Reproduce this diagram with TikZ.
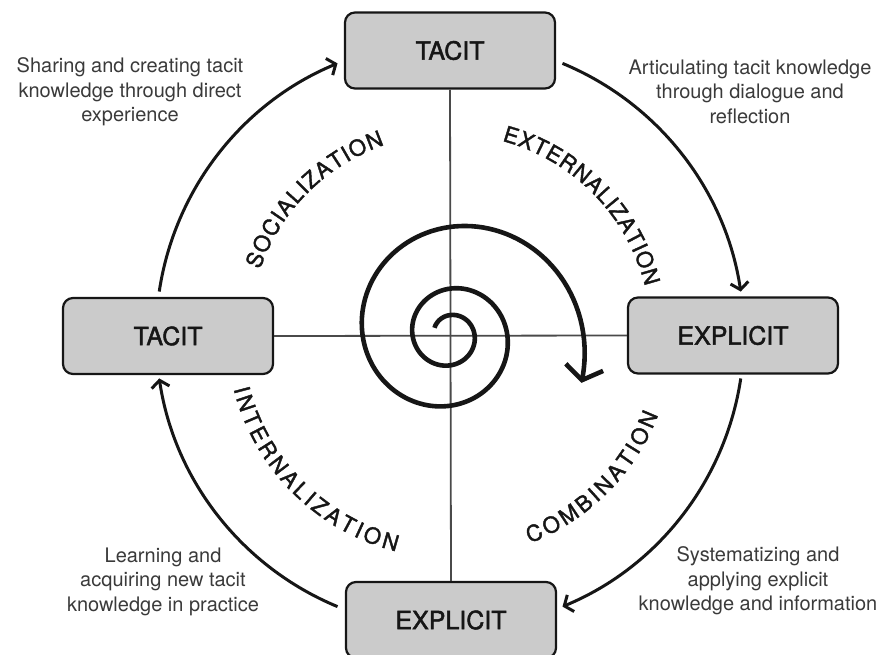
\documentclass[tikz,border=0pt]{standalone}
\usepackage{fontspec}
\setmainfont{TeX Gyre Heros}
\newfontfamily\labelfont{TeX Gyre Heros}[FakeBold=1.8]
\usetikzlibrary{arrows.meta,decorations.text,calc}

\definecolor{boxgray}{HTML}{CBCBCB}
\definecolor{ink}{HTML}{161616}
\definecolor{note}{HTML}{3A3A3A}
\definecolor{axis}{HTML}{4A4A4A}

\newcommand{\modefont}{\labelfont\fontsize{22}{22}\selectfont}

\begin{document}
\begin{tikzpicture}[x=1pt,y=-1pt,
  stage/.style={draw=ink, line width=2.2pt, fill=boxgray, rounded corners=10pt,
    minimum width=210pt, minimum height=76pt, inner sep=0pt, text=ink,
    font=\labelfont\fontsize{25}{25}\selectfont},
  note/.style={align=center, text=note, inner sep=0pt, anchor=north,
    font=\fontsize{20}{24.5}\selectfont},
  flow/.style={line width=3pt, draw=ink, -{Straight Barb[length=7pt,width=18pt]}},
  axisline/.style={draw=axis, line width=1.8pt},
  curve/.style={decorate, decoration={text along path,
    text align=fit to path, text color=ink, text={|\modefont|#1}}}
]
\path[use as bounding box, clip] (0,0) rectangle (884,655);
\coordinate (o) at (450,335);

% the four knowledge states
\node[stage] (T) at (450,50.5) {TACIT};
\node[stage] (R) at (733,335.5) {EXPLICIT};
\node[stage] (B) at (451,620) {EXPLICIT};
\node[stage] (L) at (168,336) {TACIT};

% axes between the states
\draw[axisline] (L.east) -- (R.west);
\draw[axisline] (T.south) -- (B.north);

% conversion arcs on the outer circle
\coordinate (s1) at ($(o)+(188.5:294)$);
\coordinate (s2) at ($(o)+(292.5:294)$);
\coordinate (s3) at ($(o)+(8.5:294)$);
\coordinate (s4) at ($(o)+(112.5:294)$);
\draw[flow] (s1) arc[start angle=188.5, end angle=247.5, radius=294];
\draw[flow] (s2) arc[start angle=292.5, end angle=351.5, radius=294];
\draw[flow] (s3) arc[start angle=8.5, end angle=67.5, radius=294];
\draw[flow] (s4) arc[start angle=112.5, end angle=171.5, radius=294];

% mode names along the inner circle
\path[curve=SOCIALIZATION] ($(o)+(199:201)$) arc[start angle=199, end angle=251, radius=201];
\path[curve=EXTERNALIZATION] ($(o)+(285:201)$) arc[start angle=285, end angle=346, radius=201];
\path[curve=COMBINATION] ($(o)+(69:223)$) arc[start angle=69, end angle=21, radius=223];
\path[curve=INTERNALIZATION] ($(o)+(166:223)$) arc[start angle=166, end angle=104, radius=223];

% knowledge spiral
\begin{scope}[shift={(450,335)}]
\draw[ink, line width=4.6pt, -{Straight Barb[length=13pt,width=38pt]}]
  plot[domain=-155:740, samples=300] (\x:{19.9*exp(0.002356*(\x+90))});
\end{scope}

% descriptions
\node[note] (n1) at (130,57.4) {Sharing and creating tacit\\knowledge through direct\\experience};
\node[note] (n2) at (750,59.4) {Articulating tacit knowledge\\through dialogue and\\reflection};
\node[note] (n3) at (758,546.4) {Systematizing and\\applying explicit\\knowledge and information};
\node[note] (n4) at (163,547.4) {Learning and\\acquiring new tacit\\knowledge in practice};
\end{tikzpicture}
\end{document}
